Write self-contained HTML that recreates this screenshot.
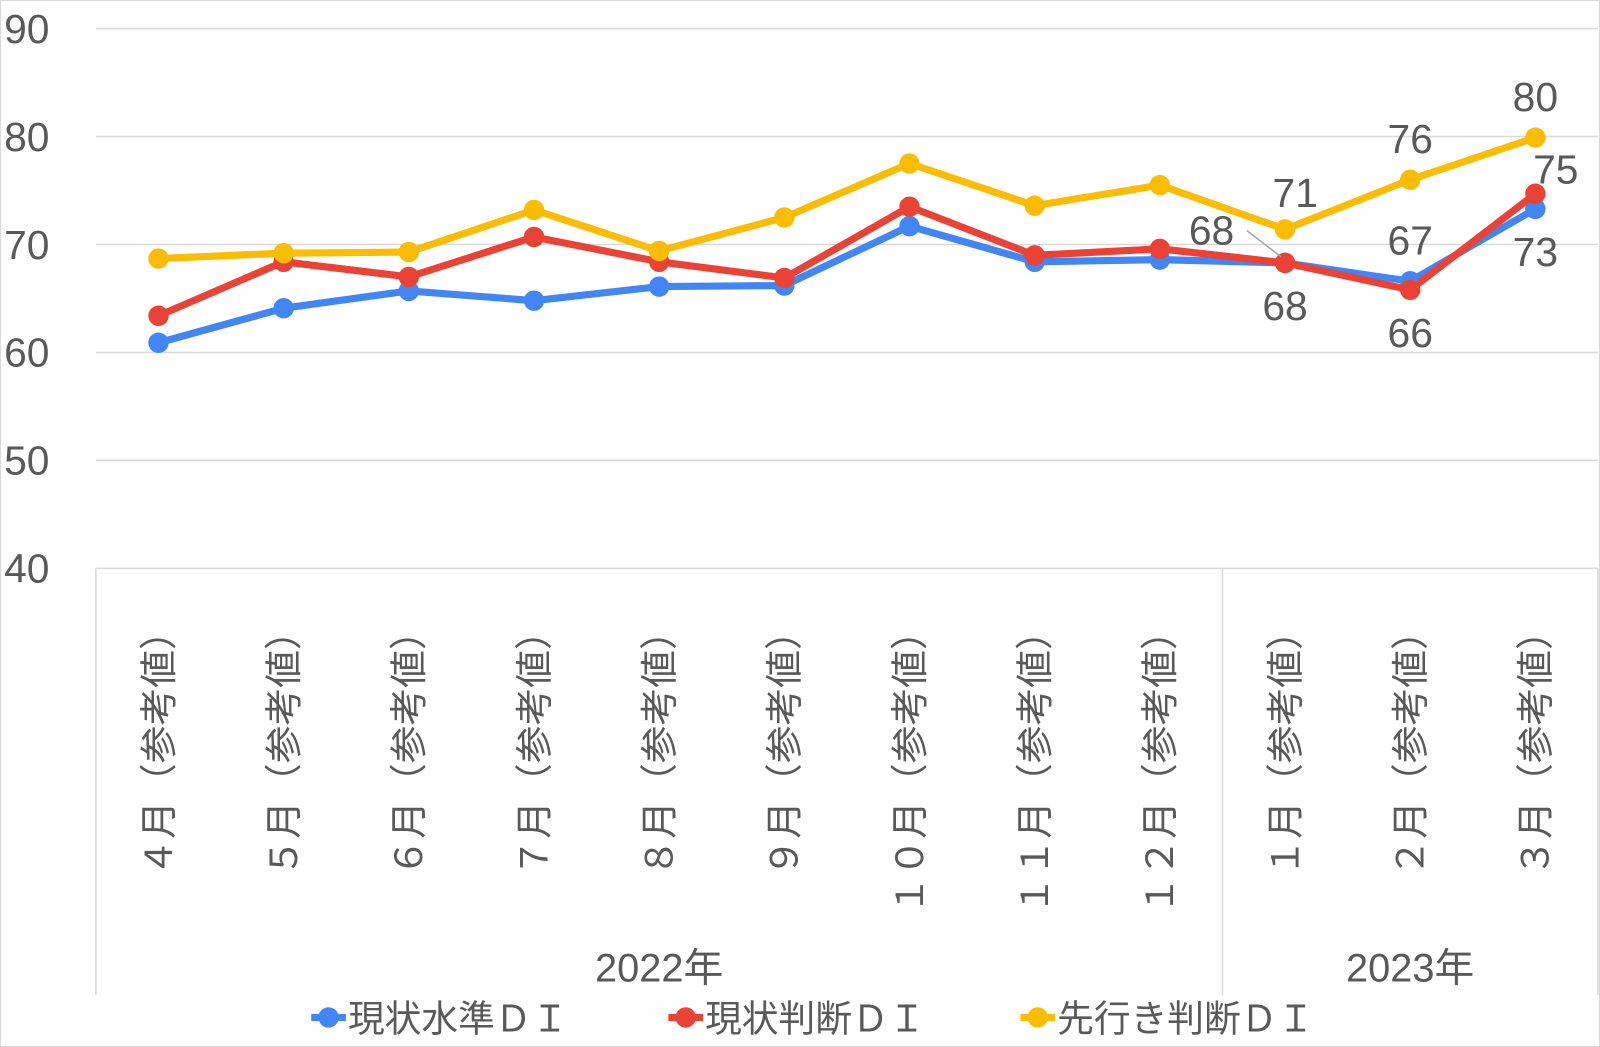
<!DOCTYPE html>
<html><head><meta charset="utf-8"><style>
html,body{margin:0;padding:0;background:#fff}
svg{display:block;font-family:"Liberation Sans","Noto Sans CJK JP",sans-serif}
</style></head><body>
<svg id="chart" width="1600" height="1047" viewBox="0 0 1568 1026" preserveAspectRatio="none" xmlns="http://www.w3.org/2000/svg">
<rect x="0.5" y="0.5" width="1567" height="1025" fill="#fff" stroke="#d9d9d9"/>
<g id="grid"></g><g id="yticks"></g><g id="xaxis"></g><g id="series"></g><g id="labels"></g><g id="legend"></g>
</svg>
<script>
const categories=["４月（参考値）","５月（参考値）","６月（参考値）","７月（参考値）","８月（参考値）","９月（参考値）","１０月（参考値）","１１月（参考値）","１２月（参考値）","１月（参考値）","２月（参考値）","３月（参考値）"];
const years=["2022年","2023年"];
const yearSpans=[9,3];
const yTicks=[40,50,60,70,80,90];
const seriesNames=["現状水準ＤＩ","現状判断ＤＩ","先行き判断ＤＩ"];
const seriesColors=["#4285f4","#ea4335","#fbbc04"];
const currentLevel=[60.9,64.1,65.7,64.8,66.1,66.2,71.7,68.4,68.6,68.3,66.6,73.3];
const currentJudge=[63.4,68.4,67.0,70.7,68.4,66.9,73.5,69.0,69.6,68.3,65.8,74.7];
const outlookJudge=[68.7,69.2,69.3,73.2,69.4,72.5,77.5,73.6,75.5,71.4,76.0,79.9];
const labelText=[["68","67","73"],["68","66","75"],["71","76","80"]];
const NS="http://www.w3.org/2000/svg";
const L=94,R=1566,T=28,B=557,ymin=40,ymax=90;
const bw=(R-L)/categories.length;
const x=i=>L+bw*(i+0.5);
const y=v=>B-(v-ymin)/(ymax-ymin)*(B-T);
function mk(tag,attrs,parent,text){const e=document.createElementNS(NS,tag);for(const k in attrs)e.setAttribute(k,attrs[k]);if(text!==undefined)e.textContent=text;parent.appendChild(e);return e;}
const g=id=>document.getElementById(id);
yTicks.forEach(t=>{
 const ln=mk("line",{x1:L,x2:R,y1:y(t),y2:y(t),stroke:"#d9d9d9","stroke-width":1.5},g("grid"));
 
 
 const tx=mk("text",{x:4,y:y(t)+14,"font-size":40,fill:"#595959"},g("yticks"),String(t));
 
 
});
let acc=0;
[0,...yearSpans].forEach((s,k)=>{acc+=s;const xx=L+bw*acc;
 const ln=mk("line",{x1:xx,x2:xx,y1:B,y2:975,stroke:"#d9d9d9","stroke-width":1.5},g("xaxis"));
 
 
});
categories.forEach((c,i)=>{
 const tx=mk("text",{transform:`translate(${x(i)+13},600) rotate(-90)`,"text-anchor":"end","font-size":37,fill:"#595959"},g("xaxis"),c);
 
 
});
let st=0;
years.forEach((yr,k)=>{const cx=L+bw*(st+yearSpans[k]/2);st+=yearSpans[k];
 const tx=mk("text",{x:cx,y:962,"text-anchor":"middle","font-size":39,fill:"#595959"},g("xaxis"),yr);
 
 
});
const data=[currentLevel,currentJudge,outlookJudge];
data.forEach((d,s)=>{
 const grp=mk("g",{},g("series"));
 
 
 const pl=mk("polyline",{points:d.map((v,i)=>x(i)+","+y(v)).join(" "),fill:"none",stroke:seriesColors[s],"stroke-width":7,"stroke-linejoin":"round"},grp);
 
 
 d.forEach((v,i)=>{const c=mk("circle",{cx:x(i),cy:y(v),r:10,fill:seriesColors[s]},grp);
  
  });
});
const offs=[[[0,56],[0,-26],[0,56]],[[-72,-18],[0,56],[20,-10]],[[10,-22],[0,-26],[0,-26]]];
data.forEach((d,s)=>{for(let k=0;k<3;k++){const i=9+k;
 const tx=mk("text",{x:x(i)+offs[s][k][0],y:y(d[i])+offs[s][k][1],"text-anchor":"middle","font-size":40,fill:"#595959"},g("labels"),labelText[s][k]);
 
 
}});
const ld=mk("line",{x1:1222,y1:226,x2:x(9)-4,y2:y(currentJudge[9])-6,stroke:"#a6a6a6","stroke-width":1.5},g("labels"));


const lx=[305,655,1000];
seriesNames.forEach((n,s)=>{
 const grp=mk("g",{},g("legend"));
 
 
 mk("line",{x1:lx[s],x2:lx[s]+34,y1:997,y2:997,stroke:seriesColors[s],"stroke-width":7},grp);
 mk("circle",{cx:lx[s]+17,cy:997,r:10,fill:seriesColors[s]},grp);
 mk("text",{x:lx[s]+36,y:1011,"font-size":36,fill:"#595959"},grp,n);
});
</script>
</body></html>
